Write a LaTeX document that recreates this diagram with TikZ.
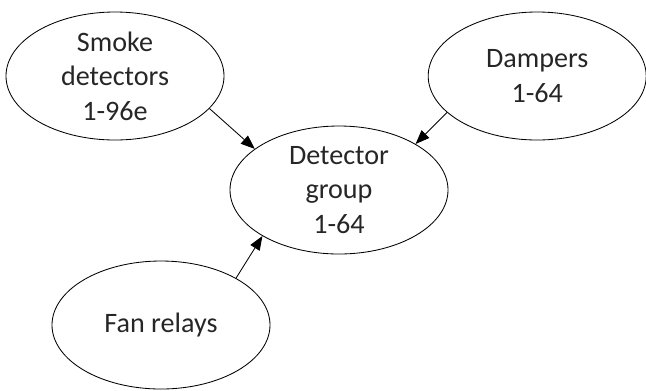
\documentclass[tikz,border=0pt]{standalone}
\usepackage{fontspec}
\setmainfont{Carlito}
\usetikzlibrary{shapes.geometric,arrows.meta}

\begin{document}
\begin{tikzpicture}[
nd/.style = {draw,ellipse,line width=0.6pt,inner sep=0pt,minimum width=5.45cm,minimum height=3.2cm,
  align=center,text=black!85,font=\fontsize{20}{24.5}\selectfont},
edge/.style = {line width=0.6pt,-{Triangle[length=0.35cm,width=0.27cm]}}
]
  \useasboundingbox (0,0) rectangle (16.15,-9.75);

  \node[nd] (smoke) at (2.875,-1.9) {Smoke\\detectors\\1-96e};
  \node[nd] (damp) at (13.43,-1.9) {Dampers\\1-64};
  \node[nd] (grp) at (8.475,-4.75) {Detector\\group\\1-64};
  \node[nd] (fan) at (4.025,-8.125) {Fan relays};

  \draw[edge] (smoke.-19) -- (grp.154);
  \draw[edge] (damp.-158) -- (grp.31);
  \draw[edge] (fan.32) -- (grp.-149);
\end{tikzpicture}
\end{document}
